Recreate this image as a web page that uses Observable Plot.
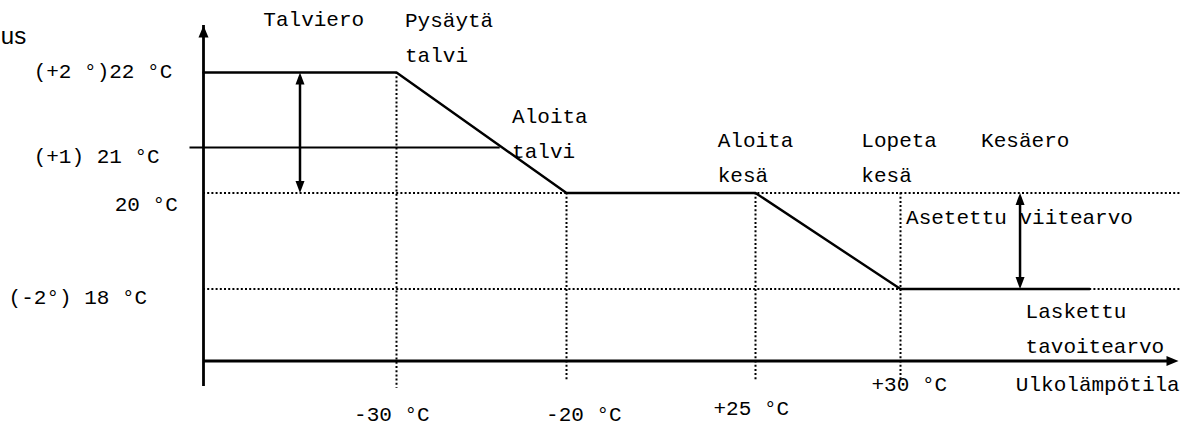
<!DOCTYPE html>
<html><head><meta charset="utf-8">
<script src="https://cdn.jsdelivr.net/npm/d3@7"></script>
<script src="https://cdn.jsdelivr.net/npm/@observablehq/plot@0.6"></script>
<style>body{margin:0;background:#fff}</style>
</head><body><div id="chart"></div>
<script>
// ---- data (outdoor temperature °C on x, target/room temperature level °C on y) ----
const curveOutdoor = [-40, -30, -20, 25, 30, 36.8];
const curveTarget  = [22, 22, 20, 20, 18, 18];
const winterLineOutdoor = [-40.7, -23.9];
const winterLineLevel = 21;
const breakTemps  = [-30, -20, 25, 30];
const breakTop    = [22, 20, 20, 20];
const breakBottom = [15.8, 16, 16, 16];
const guideLevels = [20, 18];
const guideEnd = 40.1;
const originX = -40, originY = 16.5, axisTopY = 22.6, axisBottomY = 16, axisRightX = 40;
const diffArrowX = [-35, 34.3];
const diffArrowTop = [22, 20];
const diffArrowBottom = [20, 18];

const tickLabels = ["-30 °C", "-20 °C", "+25 °C", "+30 °C"];
const tickLabelX = [-32.2, -21.2, 15, 29];
const tickLabelY = [14.97, 14.97, 15.12, 15.72];

const levelLabels = ["(+2 °)22 °C", "(+1) 21 °C", "20 °C", "(-2°) 18 °C"];
const levelLabelX = [-48.8, -48.8, -44.6, -50.1];
const levelLabelY = [21.93, 20.67, 19.63, 17.68];

const notes = ["Talviero", "Pysäytä\ntalvi", "Aloita\ntalvi", "Aloita\nkesä", "Lopeta\nkesä", "Kesäero", "Asetettu viitearvo", "Laskettu\ntavoitearvo", "Ulkolämpötila"];
const noteX = [-36.9, -29.5, -23.2, 16, 28.65, 32.9, 30.2, 34.5, 34.15];
const noteY = [22.59, 22.14, 20.76, 20.24, 20.24, 21.01, 19.36, 16.67, 15.72];

const cornerText = ["us"];
const cornerX = [-50.5];
const cornerY = [22.37];

// ---- arrowhead symbols (tip at the point) ----
const headUp    = {draw(c){ c.moveTo(0,0); c.lineTo(5,12); c.lineTo(-5,12); c.closePath(); }};
const headRight = {draw(c){ c.moveTo(0,0); c.lineTo(-12,5); c.lineTo(-12,-5); c.closePath(); }};
const smallUp   = {draw(c){ c.moveTo(0,0); c.lineTo(4.5,12); c.lineTo(-4.5,12); c.closePath(); }};
const smallDown = {draw(c){ c.moveTo(0,0); c.lineTo(4.5,-12); c.lineTo(-4.5,-12); c.closePath(); }};

const mono = "Liberation Mono, Courier New, monospace";
const dotted = {stroke: "black", strokeWidth: 2, strokeDasharray: "2,2.2"};
const idx = a => a.map((_, i) => i);

const chart = Plot.plot({
  width: 1181, height: 428,
  marginTop: 0, marginRight: 0, marginBottom: 0, marginLeft: 0,
  style: {background: "white"},
  x: {type: "linear", domain: [-40, -30, -20, 25, 30, 40], range: [203, 396, 566, 755, 900, 1178], axis: null},
  y: {type: "linear", domain: [16, 16.5, 18, 20, 21, 22, 22.6], range: [380, 360.5, 288.5, 192.5, 147, 72, 25], axis: null},
  marks: [
    // dotted guides
    Plot.ruleY(guideLevels, {y: d => d, x1: () => originX, x2: () => guideEnd, ...dotted}),
    Plot.ruleX(idx(breakTemps), {x: i => breakTemps[i], y1: i => breakTop[i], y2: i => breakBottom[i], ...dotted}),
    // axes
    Plot.ruleX([originX], {x: d => d, y1: () => axisBottomY, y2: () => axisTopY, stroke: "black", strokeWidth: 2.8, insetTop: 6}),
    Plot.ruleY([originY], {y: d => d, x1: () => originX, x2: () => axisRightX, stroke: "black", strokeWidth: 2.8, insetRight: 6}),
    Plot.dot([0], {x: () => originX, y: () => axisTopY, symbol: headUp, fill: "black", stroke: null}),
    Plot.dot([0], {x: () => axisRightX, y: () => originY, symbol: headRight, fill: "black", stroke: null}),
    // winter 21 line
    Plot.ruleY([winterLineLevel], {y: d => d, x1: () => winterLineOutdoor[0], x2: () => winterLineOutdoor[1], stroke: "black", strokeWidth: 1.8}),
    // main curve
    Plot.line(idx(curveOutdoor), {x: i => curveOutdoor[i], y: i => curveTarget[i], stroke: "black", strokeWidth: 2.4}),
    // difference arrows
    Plot.ruleX(idx(diffArrowX), {x: i => diffArrowX[i], y1: i => diffArrowTop[i], y2: i => diffArrowBottom[i], stroke: "black", strokeWidth: 2.5, insetTop: 5, insetBottom: 5}),
    Plot.dot(idx(diffArrowX), {x: i => diffArrowX[i], y: i => diffArrowTop[i], symbol: smallUp, fill: "black", stroke: null}),
    Plot.dot(idx(diffArrowX), {x: i => diffArrowX[i], y: i => diffArrowBottom[i], symbol: smallDown, fill: "black", stroke: null}),
    // texts
    Plot.text(idx(notes), {x: i => noteX[i], y: i => noteY[i], text: i => notes[i], textAnchor: "start", lineAnchor: "bottom", lineHeight: 1.667, fontFamily: mono, fontSize: 21, fill: "black"}),
    Plot.text(idx(tickLabels), {x: i => tickLabelX[i], y: i => tickLabelY[i], text: i => tickLabels[i], textAnchor: "start", lineAnchor: "bottom", fontFamily: mono, fontSize: 21, fill: "black"}),
    Plot.text(idx(levelLabels), {x: i => levelLabelX[i], y: i => levelLabelY[i], text: i => levelLabels[i], textAnchor: "start", lineAnchor: "bottom", fontFamily: mono, fontSize: 21, fill: "black"}),
    Plot.text(idx(cornerText), {x: i => cornerX[i], y: i => cornerY[i], text: i => cornerText[i], textAnchor: "start", lineAnchor: "bottom", fontFamily: "Liberation Sans, Arial, sans-serif", fontSize: 24, fill: "black"})
  ]
});
document.getElementById("chart").appendChild(chart);
</script>
</body></html>
